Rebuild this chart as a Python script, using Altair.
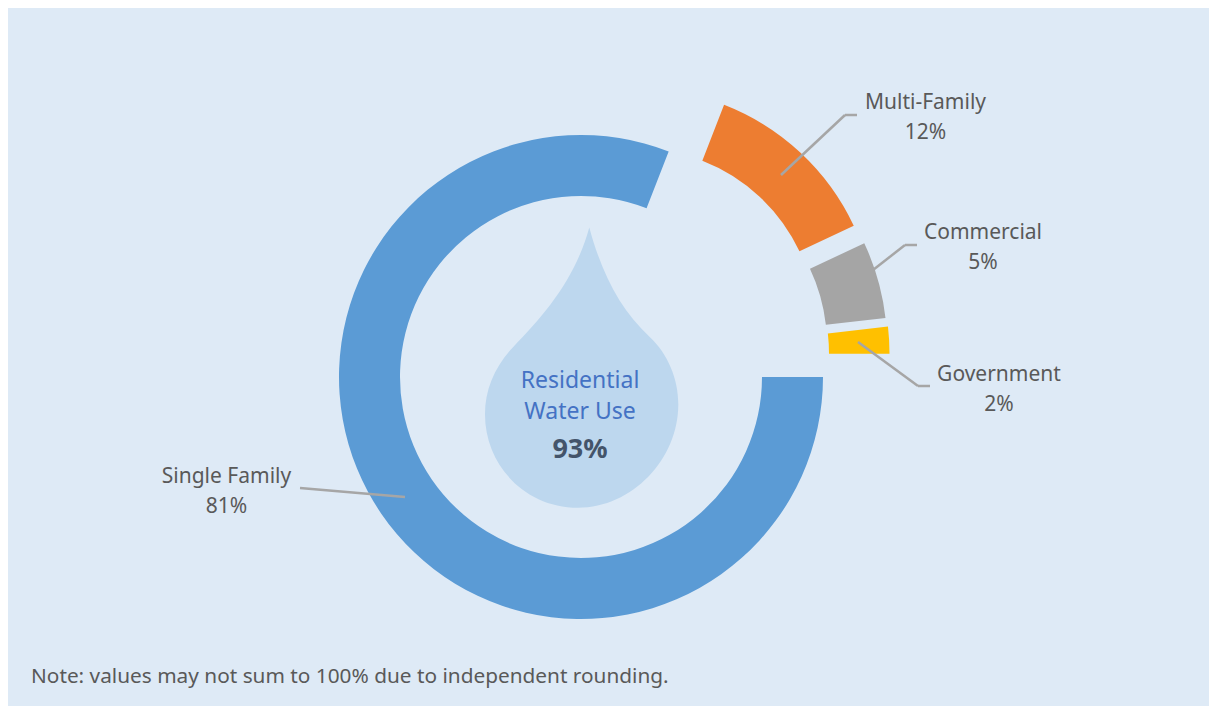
import math
import altair as alt
import pandas as pd

# --- chart values
categories = ["Single Family", "Multi-Family", "Commercial", "Government"]
shares = [80.9, 12.1, 5.2, 1.8]          # slice sizes as drawn
pct_labels = ["81%", "12%", "5%", "2%"]  # rounded labels
colors = ["#5B9BD5", "#ED7D31", "#A5A5A5", "#FFC000"]
center_lines = ["Residential", "Water Use"]
center_total = "93%"
note = "Note: values may not sum to 100% due to independent rounding."

# --- layout (page pixels; the chart itself starts at 8,8)
PAGE = 8
centers = [(581, 377), (637.5, 327.5), (648, 345), (649.5, 353.7)]
radii = [(242, 181), (239, 179), (239, 179), (240, 179.5)]
label_pos = [(226.5, 477, 507), (925.5, 103, 133), (983, 233, 263), (999, 375, 405)]
leaders = [
    [(300, 488), (405, 497)],
    [(781, 175), (845, 115), (857, 115)],
    [(873, 270), (905, 245), (917, 245)],
    [(858, 342), (918, 386), (930, 386)],
]
drop_px = [
    ("M", [(589.3, 228.3)]),
    ("C", [(575, 280), (545, 315), (513, 348)]),
    ("C", [(495, 367), (485, 390), (485, 415)]),
    ("C", [(485, 466), (525, 508.5), (578, 508.5)]),
    ("C", [(632, 508.5), (678.3, 460), (678.3, 405)]),
    ("C", [(678.3, 380), (668, 355), (650, 338)]),
    ("C", [(620, 310), (602, 275), (589.3, 228.3)]),
]
DROP_C = (581.65, 367.6)
DROP_R = 140.0

FONT = "Noto Sans"
TXT = "#595959"


def px(v):
    return v - PAGE


starts, ends, run = [], [], 0.0
for s in shares:
    starts.append(run)
    run += s
    ends.append(run)

df = pd.DataFrame({
    "category": categories,
    "start": starts,
    "end": ends,
    "pct": pct_labels,
})

theta_scale = alt.Scale(domain=[0, 100], range=[math.pi / 2, math.pi / 2 + 2 * math.pi])
color_scale = alt.Scale(domain=categories, range=colors)

layers = []

# water drop
path = " ".join(
    cmd + " ".join(f"{(x - 581.65) / DROP_R:.4f},{(y - 368.4) / DROP_R:.4f}" for x, y in pts)
    for cmd, pts in drop_px
) + " Z"
one = pd.DataFrame({"a": [0]})
layers.append(
    alt.Chart(one).mark_point(shape=path, size=(2 * DROP_R) ** 2, filled=True, fill="#BDD7EE",
                              stroke=None, opacity=1)
    .encode(x=alt.value(px(DROP_C[0])), y=alt.value(px(DROP_C[1])))
)

# ring slices
for cat, (cx, cy), (ro, ri) in zip(categories, centers, radii):
    layers.append(
        alt.Chart(df).transform_filter(alt.datum.category == cat)
        .mark_arc(radius=ro, radius2=ri)
        .encode(
            theta=alt.Theta("start:Q", scale=theta_scale),
            theta2="end:Q",
            color=alt.Color("category:N", scale=color_scale, legend=None),
            x=alt.value(px(cx)),
            y=alt.value(px(cy)),
        )
    )

# leader lines
for pts in leaders:
    for (x0, y0), (x1, y1) in zip(pts[:-1], pts[1:]):
        layers.append(
            alt.Chart(one).mark_rule(color="#A6A6A6", strokeWidth=2.5)
            .encode(x=alt.value(px(x0)), x2=alt.value(px(x1)),
                    y=alt.value(px(y0)), y2=alt.value(px(y1)))
        )

# slice labels
for cat, (lx, y1, y2) in zip(categories, label_pos):
    base = alt.Chart(df).transform_filter(alt.datum.category == cat)
    layers.append(base.mark_text(font=FONT, fontSize=21, color=TXT, align="center", baseline="middle")
                  .encode(text="category:N", x=alt.value(px(lx)), y=alt.value(px(y1))))
    layers.append(base.mark_text(font=FONT, fontSize=21, color=TXT, align="center", baseline="middle")
                  .encode(text="pct:N", x=alt.value(px(lx)), y=alt.value(px(y2))))


def fixed_text(txt, x, y, **kw):
    return (alt.Chart(pd.DataFrame({"t": [txt]})).mark_text(font=FONT, baseline="middle", **kw)
            .encode(text="t:N", x=alt.value(px(x)), y=alt.value(px(y))))


layers.append(fixed_text(center_lines[0], 580, 381, fontSize=23, color="#4472C4", align="center"))
layers.append(fixed_text(center_lines[1], 580, 412, fontSize=23, color="#4472C4", align="center"))
layers.append(fixed_text(center_total, 580, 450, fontSize=27, fontWeight="bold", color="#44546A", align="center"))
layers.append(fixed_text(note, 31, 677, fontSize=20.8, color=TXT, align="left"))

chart = (
    alt.layer(*layers)
    .properties(width=1201, height=698, background="#DEEAF6", padding=0,
                autosize=alt.AutoSizeParams(type="none"))
    .configure_view(stroke=None)
)

chart.save("out.html", embed_options={"renderer": "svg", "actions": False})
